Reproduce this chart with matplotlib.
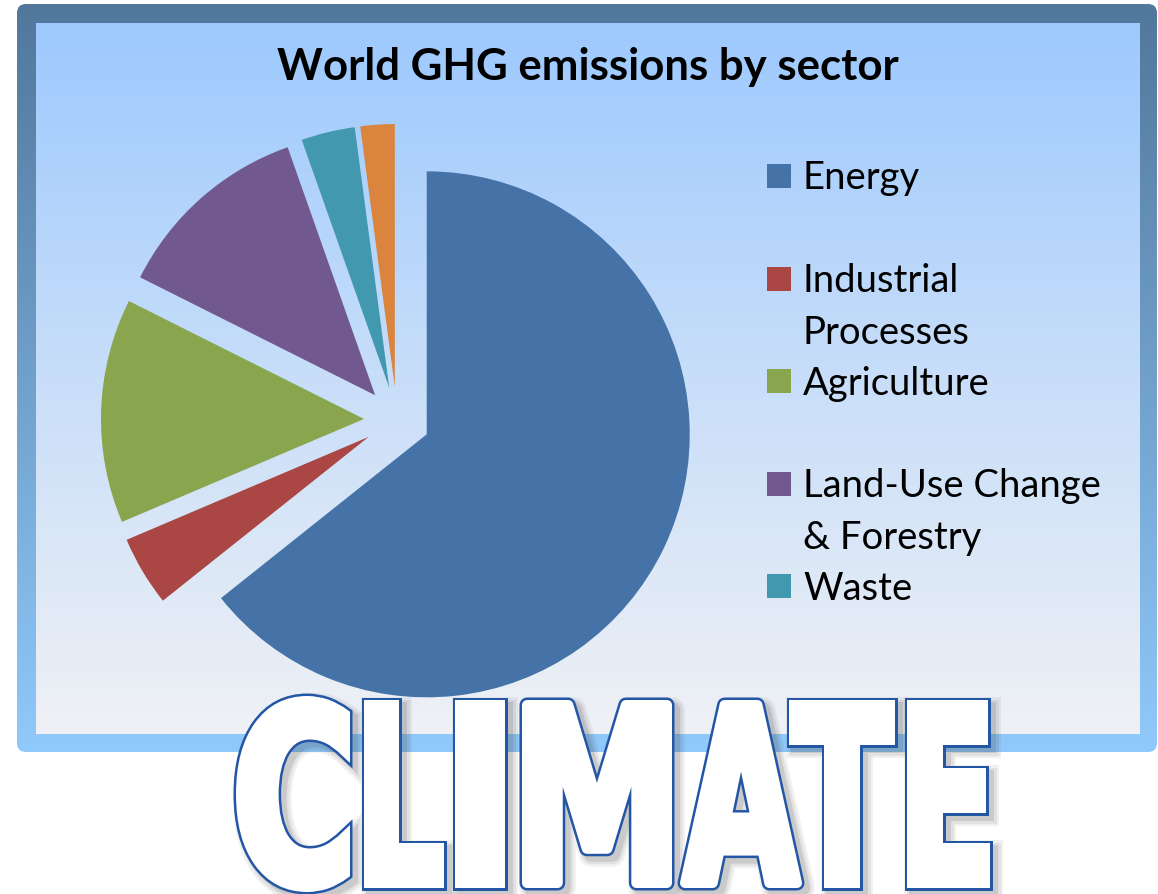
import numpy as np
import matplotlib.pyplot as plt
from matplotlib.patches import FancyBboxPatch, PathPatch, Rectangle
from matplotlib.textpath import TextPath
from matplotlib.font_manager import FontProperties
from matplotlib.transforms import Affine2D
from matplotlib.colors import LinearSegmentedColormap

W, H = 1158, 895

# shares (percent of world GHG emissions)
sectors = ['Energy', 'Industrial\nProcesses', 'Agriculture',
           'Land-Use Change\n& Forestry', 'Waste', 'International Bunkers']
shares = [64.3, 4.3, 13.8, 12.2, 3.3, 2.1]
colors = ['#4572a7', '#aa4643', '#89a54e', '#71588f', '#4198af', '#db843d']
n_legend = 5  # legend box is cut off after Waste

fig = plt.figure(figsize=(W / 100, H / 100), dpi=100)
ax = fig.add_axes([0, 0, 1, 1])


def py(y):
    # picture rows (from top) -> data y (from bottom)
    return H - y


grad = np.linspace(0, 1, 256).reshape(-1, 1)

# outer frame with gradient
frame = FancyBboxPatch((17, py(753)), 1140, 748, boxstyle='round,pad=0,rounding_size=9',
                       fc='none', ec='none')
ax.add_patch(frame)
border_cm = LinearSegmentedColormap.from_list('border', ['#51779b', '#90c9fb'])
im = ax.imshow(grad, extent=(17, 1157, py(753), py(5)), cmap=border_cm,
               aspect='auto', origin='upper', zorder=0)
im.set_clip_path(frame)

# inner plot area
inner_cm = LinearSegmentedColormap.from_list('inner', ['#9dc9fe', '#c8def9', '#eff1f5'])
ax.imshow(grad, extent=(36, 1140, py(735), py(24)), cmap=inner_cm,
          aspect='auto', origin='upper', zorder=0.5)

# exploded pie
ax.pie(shares, colors=colors, startangle=90, counterclock=False, radius=263,
       center=(397, py(421)), explode=[33] * len(shares), frame=True,
       wedgeprops=dict(linewidth=0, zorder=2))

ax.text(588, py(80), 'World GHG emissions by sector', ha='center', va='baseline',
        fontsize=31.5, fontweight='bold', family='Lato', color='black', zorder=3)

# legend
for i in range(n_legend):
    yc = 177 + i * 102.5
    ax.add_patch(Rectangle((767, py(yc + 12)), 24, 24, fc=colors[i], ec='none', zorder=3))
    for k, line in enumerate(sectors[i].split('\n')):
        ax.text(803, py(yc + 12.5 + k * 52), line, ha='left', va='baseline',
                fontsize=27.5, family='Lato', color='black', zorder=3)

# big CLIMATE word, each letter stretched into its box
boxes = [(236, 350), (364, 444), (455, 505), (522, 672), (680, 802), (789, 895), (907, 990)]
fp = FontProperties(family='DejaVu Sans', weight='bold')
e = 5
paths = []
joins = []
for ch, (x0, x1) in zip('CLIMATE', boxes):
    y0, y1 = (697, 893) if ch == 'C' else (701, 889)
    tp = TextPath((0, 0), ch, size=100, prop=fp)
    bb = tp.get_extents()
    tr = (Affine2D().translate(-bb.x0, -bb.y0)
          .scale((x1 - x0 - 2 * e) / bb.width, (y1 - y0 - 2 * e) / bb.height)
          .translate(x0 + e, py(y1) + e))
    paths.append(tr.transform_path(tp))
    # sharp corners except where acute angles would spike
    joins.append('round' if ch in 'MA' else 'miter')

for p, js in zip(paths, joins):
    sp = Affine2D().translate(5, -5).transform_path(p)
    for extra, a in [(16, 0.07), (11, 0.09), (6, 0.14)]:
        ax.add_patch(PathPatch(sp, fc='#444444', ec='#444444', lw=(2 * e + extra) * 0.72,
                               alpha=a, joinstyle=js, zorder=4))
for p, js in zip(paths, joins):
    ax.add_patch(PathPatch(p, fc='white', ec='#2456a6', lw=(2 * e + 5) * 0.72,
                           joinstyle=js, zorder=5))
    ax.add_patch(PathPatch(p, fc='white', ec='white', lw=2 * e * 0.72,
                           joinstyle=js, zorder=6))

ax.set_xlim(0, W)
ax.set_ylim(0, H)
ax.set_aspect('auto')
ax.axis('off')
fig.savefig('out.png', dpi=100, facecolor='white')
